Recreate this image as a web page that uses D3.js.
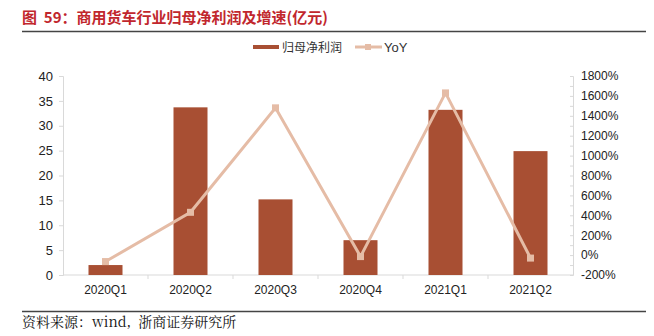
<!DOCTYPE html>
<html>
<head>
<meta charset="utf-8">
<script src="https://cdn.jsdelivr.net/npm/d3@7"></script>
<style>
  html, body { margin: 0; padding: 0; background: #fff; }
  svg { display: block; }
</style>
</head>
<body>
<svg id="chart" width="654" height="336"></svg>
<script>
// Quarterly net profit attributable to parent (亿元) and YoY growth (%)
const quarters = ["2020Q1", "2020Q2", "2020Q3", "2020Q4", "2021Q1", "2021Q2"];
const netProfit = [2.0, 33.7, 15.2, 7.0, 33.2, 24.9];
const yoyGrowth = [-65, 430, 1480, -15, 1630, -30];
const leftTicks = [0, 5, 10, 15, 20, 25, 30, 35, 40];
const rightTicks = [-200, 0, 200, 400, 600, 800, 1000, 1200, 1400, 1600, 1800];
const rightMinorTicks = d3.range(-200, 1801, 100);

const svg = d3.select("#chart");
const barColor = "#A84F33";
const lineColor = "#E5BCA6";
const axisColor = "#D9D9D9";
const titleColor = "#C1272D";

const plot = { left: 63, right: 573, top: 76, bottom: 275 };

const x = d3.scaleBand().domain(quarters).range([plot.left, plot.right]).paddingInner(0.6).paddingOuter(0.3);
const xBand = d3.scaleBand().domain(quarters).range([plot.left, plot.right]);
const yLeft = d3.scaleLinear().domain([0, 40]).range([plot.bottom, plot.top]);
const yRight = d3.scaleLinear().domain([-200, 1800]).range([plot.bottom, plot.top]);

// Title and rule
svg.append("text")
  .attr("x", 22).attr("y", 23)
  .attr("fill", titleColor)
  .attr("font-family", "'Noto Sans CJK SC', sans-serif")
  .attr("font-size", 15).attr("font-weight", "bold")
  .attr("xml:space", "preserve")
  .text("图  59：商用货车行业归母净利润及增速(亿元)");
svg.append("line")
  .attr("x1", 22).attr("x2", 646).attr("y1", 31.5).attr("y2", 31.5)
  .attr("stroke", "#444").attr("stroke-width", 1.3);

// Legend
const legend = svg.append("g").attr("font-family", "'Noto Sans CJK SC', sans-serif").attr("font-size", 12).attr("fill", "#333");
legend.append("rect").attr("x", 253).attr("y", 45).attr("width", 26).attr("height", 4).attr("fill", barColor);
legend.append("text").attr("x", 282).attr("y", 51.5).text("归母净利润");
legend.append("line").attr("x1", 355).attr("x2", 382).attr("y1", 47).attr("y2", 47).attr("stroke", lineColor).attr("stroke-width", 3);
legend.append("rect").attr("x", 365).attr("y", 44).attr("width", 6).attr("height", 6).attr("fill", lineColor);
legend.append("text").attr("x", 384).attr("y", 52).attr("font-family", "Arial, 'Liberation Sans', sans-serif").attr("font-size", 13).text("YoY");

// Left axis
const leftAxis = svg.append("g")
  .attr("transform", `translate(${plot.left},0)`)
  .call(d3.axisLeft(yLeft).tickValues(leftTicks).tickSize(4).tickPadding(6));
leftAxis.select(".domain").attr("stroke", axisColor);
leftAxis.selectAll(".tick line").attr("stroke", axisColor);
leftAxis.selectAll("text").attr("font-family", "Arial, 'Liberation Sans', sans-serif").attr("font-size", 13).attr("fill", "#222");

// Right axis: ticks every 100%, labels every 200%
const rightAxisMinor = svg.append("g")
  .attr("transform", `translate(${plot.right},0)`)
  .call(d3.axisLeft(yRight).tickValues(rightMinorTicks).tickSize(3).tickFormat(""));
rightAxisMinor.select(".domain").attr("stroke", axisColor);
rightAxisMinor.selectAll(".tick line").attr("stroke", axisColor);
const rightAxis = svg.append("g")
  .attr("transform", `translate(${plot.right},0)`)
  .call(d3.axisRight(yRight).tickValues(rightTicks).tickSize(0).tickPadding(8).tickFormat(d => d + "%"));
rightAxis.select(".domain").remove();
rightAxis.selectAll("text").attr("font-family", "Arial, 'Liberation Sans', sans-serif").attr("font-size", 12).attr("fill", "#222");

// Bottom axis with ticks at category boundaries
const bottom = svg.append("g").attr("transform", `translate(0,${plot.bottom})`);
bottom.append("line").attr("x1", plot.left).attr("x2", plot.right).attr("stroke", axisColor);
bottom.selectAll("line.sep")
  .data(quarters.slice(1))
  .join("line").attr("class", "sep")
  .attr("x1", d => xBand(d)).attr("x2", d => xBand(d))
  .attr("y1", 0).attr("y2", 4).attr("stroke", axisColor);
bottom.selectAll("text")
  .data(quarters)
  .join("text")
  .attr("x", d => xBand(d) + xBand.bandwidth() / 2)
  .attr("y", 19)
  .attr("text-anchor", "middle")
  .attr("font-family", "Arial, 'Liberation Sans', sans-serif")
  .attr("font-size", 12).attr("fill", "#222")
  .text(d => d);

// Bars
svg.append("g").selectAll("rect")
  .data(quarters)
  .join("rect")
  .attr("x", d => x(d))
  .attr("width", x.bandwidth())
  .attr("y", (d, i) => yLeft(netProfit[i]))
  .attr("height", (d, i) => yLeft(0) - yLeft(netProfit[i]))
  .attr("fill", barColor);

// YoY line with square markers
const cx = d => xBand(d) + xBand.bandwidth() / 2;
const line = d3.line().x(d => cx(d[0])).y(d => yRight(d[1]));
const pts = quarters.map((q, i) => [q, yoyGrowth[i]]);
svg.append("path")
  .datum(pts)
  .attr("d", line)
  .attr("fill", "none")
  .attr("stroke", lineColor)
  .attr("stroke-width", 3);
svg.append("g").selectAll("rect")
  .data(pts)
  .join("rect")
  .attr("x", d => cx(d[0]) - 3.5)
  .attr("y", d => yRight(d[1]) - 3.5)
  .attr("width", 7).attr("height", 7)
  .attr("fill", lineColor);

// Source rule and note
svg.append("line")
  .attr("x1", 22).attr("x2", 646).attr("y1", 311.5).attr("y2", 311.5)
  .attr("stroke", "#444").attr("stroke-width", 1.3);
svg.append("text")
  .attr("x", 22).attr("y", 327)
  .attr("font-family", "'Noto Serif CJK SC', 'Liberation Serif', serif")
  .attr("font-size", 14).attr("fill", "#111")
  .attr("xml:space", "preserve")
  .text("资料来源：wind,  浙商证券研究所");
</script>
</body>
</html>
